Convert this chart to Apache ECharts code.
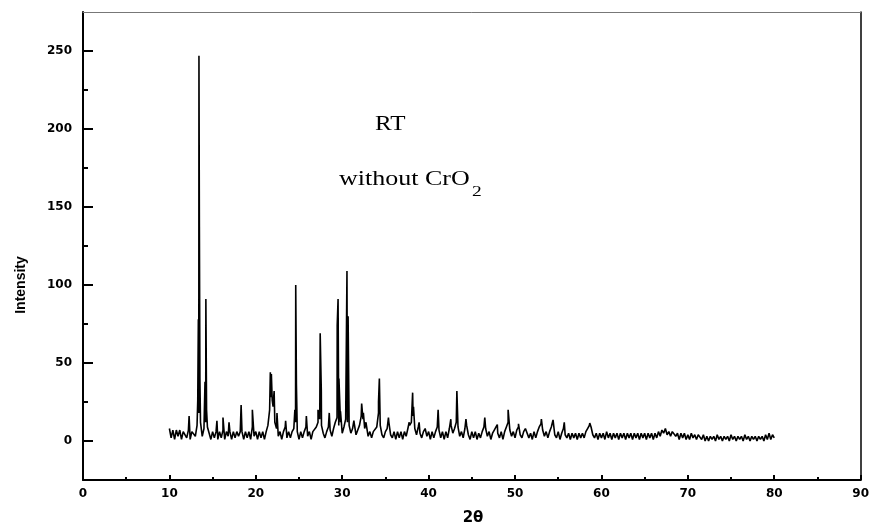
<!DOCTYPE html>
<html>
<head>
<meta charset="utf-8">
<script src="https://cdn.jsdelivr.net/npm/echarts@6/dist/echarts.min.js"></script>
<style>
  html, body { margin: 0; padding: 0; background: #fff; }
  #xrd { width: 872px; height: 528px; }
</style>
</head>
<body>
<div id="xrd"></div>
<script>
// XRD scan, RT sample without CrO2
// background read every 0.2 deg from 10 to 80
const baseStart = 10;
const baseStep = 0.2;
const baseline = [
    8, 2, 7, 1, 7, 3, 7, 1, 6, 7,       // 10
    2, 7, 1, 6, 7, 3, 10, 18, 12, 3,    // 12
    8, 12, 9, 5, 1, 6, 2, 6, 1, 6,      // 14
    2, 7, 1, 6, 3, 6, 1, 6, 2, 6,       // 16
    3, 6, 6, 1, 6, 2, 6, 1, 9, 3,       // 18
    6, 1, 6, 2, 6, 1, 6, 10, 20, 28,    // 20
    22, 12, 8, 3, 6, 1, 6, 9, 2, 6,     // 22
    2, 6, 8, 12, 6, 1, 6, 2, 6, 9,      // 24
    3, 6, 1, 6, 7, 9, 12, 14, 10, 5,    // 26
    2, 6, 9, 7, 3, 8, 12, 15, 10, 12,   // 28
    5, 9, 14, 12, 10, 5, 8, 11, 4, 7,   // 30
    10, 16, 14, 8, 10, 3, 6, 2, 6, 7,   // 32
    9, 18, 10, 4, 2, 6, 8, 12, 4, 2,    // 34
    6, 1, 6, 2, 6, 1, 6, 3, 8, 10,      // 36
    12, 16, 8, 4, 9, 5, 2, 6, 8, 3,     // 38
    6, 1, 6, 2, 6, 9, 7, 2, 6, 1,       // 40
    6, 2, 8, 10, 5, 8, 12, 9, 3, 6,     // 42
    2, 8, 10, 4, 1, 6, 2, 6, 1, 5,      // 44
    2, 6, 9, 8, 3, 6, 1, 5, 7, 9,       // 46
    5, 2, 6, 1, 6, 9, 12, 7, 3, 6,      // 48
    2, 7, 9, 4, 2, 6, 8, 7, 2, 5,       // 50
    1, 6, 2, 6, 9, 11, 7, 3, 6, 2,      // 52
    6, 9, 10, 4, 2, 6, 1, 5, 8, 4,      // 54
    2, 5, 1, 5, 2, 5, 1, 5, 2, 5,       // 56
    2, 6, 8, 10, 9, 4, 2, 5, 1, 5,      // 58
    2, 5, 1, 6, 2, 5, 1, 5, 2, 5,       // 60
    1, 5, 2, 5, 1, 5, 2, 5, 1, 5,       // 62
    2, 5, 1, 5, 2, 5, 1, 5, 2, 5,       // 64
    1, 5, 2, 6, 3, 7, 5, 8, 4, 6,       // 66
    3, 6, 7, 3, 5, 1, 5, 2, 5, 1,       // 68
    4, 1, 5, 2, 4, 1, 4, 5, 1, 4,       // 70
    0, 3, 0, 3, 1, 3, 0, 4, 1, 3,       // 72
    0, 3, 1, 3, 0, 4, 1, 3, 0, 3,       // 74
    1, 3, 0, 4, 1, 3, 0, 3, 1, 3,       // 76
    0, 3, 1, 3, 0, 4, 1, 5, 1, 4,       // 78
    2                                   // 80
];

// reflections
const peakAngle = [
    12.28, 13.28, 13.35, 13.42, 13.47, 13.53, 14.12, 14.22, 14.3, 15.5,
    16.2, 16.9, 18.3, 19.6, 21.68, 21.8, 21.9, 22.12, 22.45, 23.45,
    24.52, 24.62, 24.7, 25.85, 27.2, 27.45, 27.58, 28.5, 29.42, 29.52,
    29.62, 29.8, 30.55, 30.68, 31.35, 32.25, 32.45, 32.75, 34.2, 34.3,
    35.35, 37.75, 38.15, 38.25, 38.9, 41.1, 42.57, 43.27, 44.32, 46.5,
    47.95, 49.2, 50.4, 53.05, 54.4, 55.7, 58.65
];
const peakIntensity = [
    16, 26, 78, 247, 137, 40, 38, 91, 20, 13,
    15, 12, 23, 20, 44, 43, 26, 32, 18, 13,
    20, 100, 36, 16, 20, 69, 32, 18, 74, 91,
    40, 19, 109, 80, 13, 24, 18, 12, 25, 40,
    15, 12, 31, 22, 12, 20, 14, 32, 14, 15,
    10.5, 20, 11, 14, 13.5, 12, 11.5
];

const yMajor = [0, 50, 100, 150, 200, 250];
const yMinor = [25, 75, 125, 175, 225];

const scan = [];
baseline.forEach((v, i) => scan.push([+(baseStart + i * baseStep).toFixed(2), v]));
peakAngle.forEach((a, i) => scan.push([a, peakIntensity[i]]));
scan.sort((p, q) => p[0] - q[0]);

const tickFont = { fontFamily: 'DejaVu Sans', fontWeight: 'bold', fontSize: 12, color: '#000' };

const chart = echarts.init(document.getElementById('xrd'));
chart.setOption({
    animation: false,
    backgroundColor: '#fff',
    grid: { left: 83, right: 9, top: 12, bottom: 48 },
    xAxis: [
        {
            type: 'value', min: 0, max: 90, interval: 10, position: 'bottom',
            axisLine: { onZero: false, lineStyle: { color: '#000', width: 2 } },
            axisTick: { inside: true, length: 5, lineStyle: { color: '#000', width: 2 } },
            minorTick: { show: true, splitNumber: 2, length: 3, lineStyle: { color: '#000', width: 2 } },
            axisLabel: Object.assign({ margin: 8 }, tickFont),
            splitLine: { show: false }
        },
        {
            type: 'value', min: 0, max: 90, position: 'top',
            axisLine: { onZero: false, lineStyle: { color: '#777', width: 1 } },
            axisTick: { show: false }, axisLabel: { show: false }, splitLine: { show: false }
        }
    ],
    yAxis: [
        {
            type: 'value', min: -25, max: 275, interval: 25, position: 'left',
            axisLine: { onZero: false, lineStyle: { color: '#000', width: 2 } },
            axisTick: { inside: true, length: 10, customValues: yMajor, lineStyle: { color: '#000', width: 2 } },
            axisLabel: Object.assign({ margin: 11, customValues: yMajor }, tickFont),
            splitLine: { show: false }
        },
        {
            type: 'value', min: -25, max: 275, interval: 25, position: 'left',
            axisLine: { show: false, onZero: false },
            axisTick: { inside: true, length: 5, customValues: yMinor, lineStyle: { color: '#000', width: 2 } },
            axisLabel: { show: false }, splitLine: { show: false }
        },
        {
            type: 'value', min: -25, max: 275, position: 'right',
            axisLine: { onZero: false, lineStyle: { color: '#000', width: 1.5 } },
            axisTick: { show: false }, axisLabel: { show: false }, splitLine: { show: false }
        }
    ],
    series: [{
        type: 'line',
        data: scan,
        xAxisIndex: 0,
        yAxisIndex: 0,
        showSymbol: false,
        lineStyle: { color: '#000', width: 1.6 }
    }],
    graphic: [
        {
            type: 'text', x: 21, y: 285, rotation: Math.PI / 2,
            style: { text: 'Intensity', font: 'bold 14px "Liberation Sans"', fill: '#000', textAlign: 'center', textVerticalAlign: 'middle' }
        },
        {
            type: 'text', x: 473, y: 518,
            style: { text: '2θ', font: 'bold 15px "DejaVu Sans"', fill: '#000', textAlign: 'center', textVerticalAlign: 'middle' }
        },
        {
            type: 'text', x: 375, y: 115, scaleX: 1.25,
            style: { text: 'RT', font: '20px "Liberation Serif"', fill: '#000', textVerticalAlign: 'top' }
        },
        {
            type: 'text', x: 339, y: 170, scaleX: 1.3,
            style: { text: 'without CrO', font: '20px "Liberation Serif"', fill: '#000', textVerticalAlign: 'top' }
        },
        {
            type: 'text', x: 472, y: 185, scaleX: 1.3,
            style: { text: '2', font: '15px "Liberation Serif"', fill: '#000', textVerticalAlign: 'top' }
        }
    ]
});
</script>
</body>
</html>
